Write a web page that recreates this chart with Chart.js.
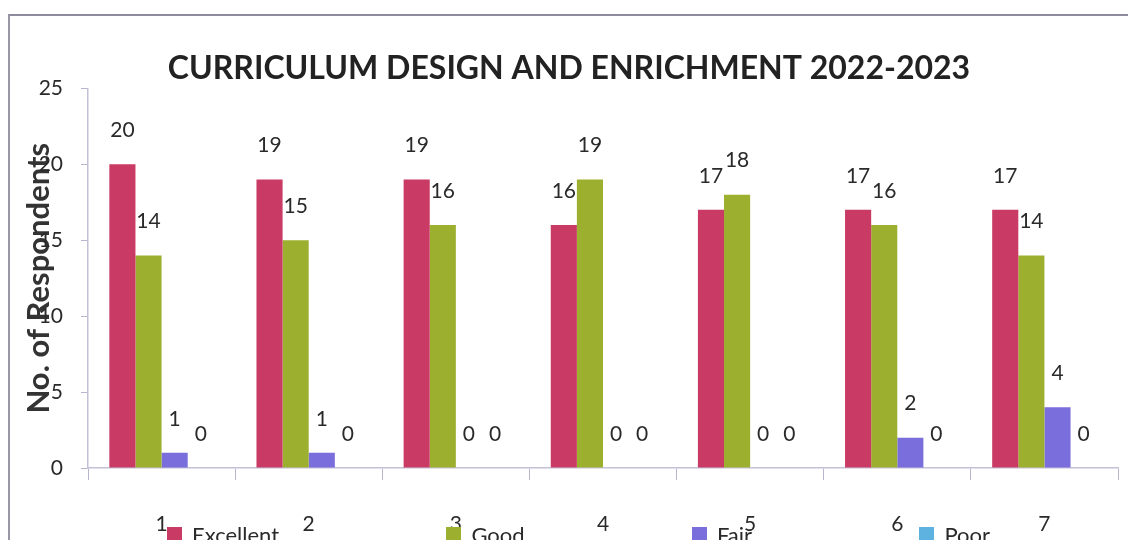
<!DOCTYPE html>
<html>
<head>
<meta charset="utf-8">
<title>Curriculum Design and Enrichment 2022-2023</title>
<script src="https://cdn.jsdelivr.net/npm/chart.js@4.4.1/dist/chart.umd.min.js"></script>
<style>
  html, body { margin: 0; padding: 0; background: #fff; overflow: hidden; }
  #wrap { position: relative; width: 1128px; height: 540px; }
  #frame {
    position: absolute; left: 8px; top: 14px; width: 1200px; height: 600px;
    border-top: 2px solid #8f8a9c; border-left: 2px solid #9a96a6;
    pointer-events: none;
  }
  #legend {
    position: absolute; left: 167px; width: 823px; top: 521px;
    display: flex; justify-content: space-between;
    font: 22px Lato, sans-serif; color: #2a2a2a;
  }
  #legend span.item { display: flex; align-items: center; }
  #legend i { display: inline-block; width: 15px; height: 15px; margin-right: 10px; }
</style>
</head>
<body>
<div id="wrap">
  <canvas id="chart"></canvas>
  <div id="frame"></div>
  <div id="legend"></div>
</div>
<script>
const categories = ["1", "2", "3", "4", "5", "6", "7"];
const seriesNames = ["Excellent", "Good", "Fair", "Poor"];
const excellent = [20, 19, 19, 16, 17, 17, 17];
const good = [14, 15, 16, 19, 18, 16, 14];
const fair = [1, 1, 0, 0, 0, 2, 4];
const poor = [0, 0, 0, 0, 0, 0, 0];
const colors = ["#c93a64", "#9daf2f", "#7a6ddc", "#5db2e0"];

const valueLabels = {
  id: "valueLabels",
  afterDatasetsDraw(chart) {
    const ctx = chart.ctx;
    ctx.save();
    ctx.font = "21px Lato, sans-serif";
    ctx.fillStyle = "#2a2a2a";
    ctx.textAlign = "center";
    ctx.textBaseline = "middle";
    chart.data.datasets.forEach((ds, i) => {
      chart.getDatasetMeta(i).data.forEach((bar, j) => {
        ctx.fillText(String(ds.data[j]), bar.x, bar.y - 34);
      });
    });
    ctx.restore();
  },
};

const dataFor = function () {
  return {
    labels: categories,
    datasets: [excellent, good, fair, poor].map((values, i) => {
      return {
        label: seriesNames[i],
        data: values,
        backgroundColor: colors[i],
        categoryPercentage: 0.71,
        barPercentage: 1.0,
      };
    }),
  };
};

const configFor = function (data) {
  return {
    type: "bar",
    data: data,
    plugins: [valueLabels],
    options: {
      responsive: true,
      maintainAspectRatio: false,
      animation: false,
      layout: { padding: { top: 30, right: 10, bottom: 3, left: 20 } },
      plugins: {
        legend: { display: false },
        tooltip: { enabled: false },
        title: {
          display: true,
          text: "CURRICULUM DESIGN AND ENRICHMENT 2022-2023",
          color: "#222",
          font: { family: "Lato", size: 32, weight: "bold" },
          padding: { top: 19, bottom: 1 },
        },
      },
      scales: {
        x: {
          grid: {
            offset: true,
            drawOnChartArea: false,
            tickLength: 12,
            color: "#b9b5cc",
          },
          border: { color: "#c4c0d8", width: 1.5 },
          ticks: {
            padding: 32,
            color: "#2a2a2a",
            font: { family: "Lato", size: 21 },
          },
          afterFit(scale) {
            scale.height = 69;
          },
        },
        y: {
          min: 0,
          max: 25,
          ticks: {
            stepSize: 5,
            padding: 18,
            color: "#2a2a2a",
            font: { family: "Lato", size: 21 },
          },
          grid: {
            drawOnChartArea: false,
            tickLength: 7,
            color: "#b9b5cc",
          },
          border: { color: "#c4c0d8", width: 1.5 },
          title: {
            display: true,
            text: "No. of Respondents",
            color: "#333",
            font: { family: "Lato", size: 31, weight: "bold" },
            padding: { top: 0, bottom: 0 },
          },
          afterFit(scale) {
            scale.width = 68;
          },
        },
      },
    },
  };
};

const init = function () {
  const chart = new Chart(document.getElementById("chart"), configFor(dataFor()));
  const legend = document.getElementById("legend");
  chart.data.datasets.forEach((ds) => {
    const item = document.createElement("span");
    item.className = "item";
    const box = document.createElement("i");
    box.style.background = ds.backgroundColor;
    item.appendChild(box);
    item.appendChild(document.createTextNode(ds.label));
    legend.appendChild(item);
  });
};

if (document.readyState !== "loading") {
  init();
} else {
  document.addEventListener("DOMContentLoaded", init);
}
</script>
</body>
</html>
